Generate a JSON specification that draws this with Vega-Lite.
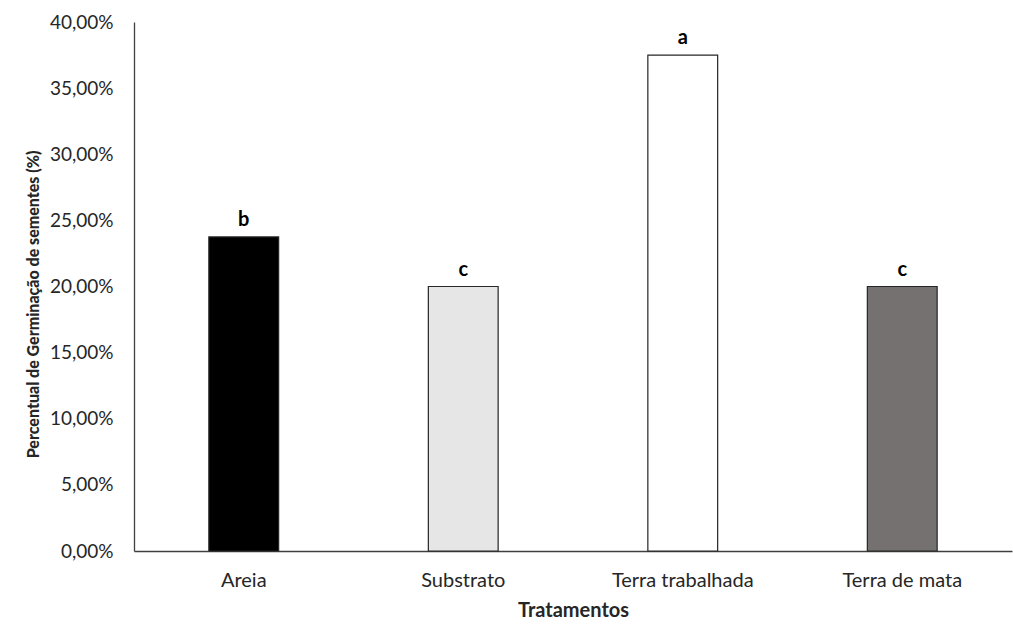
{
  "$schema": "https://vega.github.io/schema/vega-lite/v6.json",
  "autosize": "none",
  "width": 878,
  "height": 529,
  "padding": {"left": 134, "top": 22, "right": 1, "bottom": 83},
  "background": "white",
  "config": {
    "view": {"stroke": null},
    "font": "Lato"
  },
  "data": {
    "values": [
      {"tratamento": "Areia", "valor": 0.2375, "letra": "b", "cor": "#000000"},
      {"tratamento": "Substrato", "valor": 0.2, "letra": "c", "cor": "#e7e6e6"},
      {"tratamento": "Terra trabalhada", "valor": 0.375, "letra": "a", "cor": "#ffffff"},
      {"tratamento": "Terra de mata", "valor": 0.2, "letra": "c", "cor": "#767171"}
    ]
  },
  "encoding": {
    "x": {
      "field": "tratamento",
      "type": "nominal",
      "sort": null,
      "scale": {"paddingInner": 0.682, "paddingOuter": 0.341},
      "axis": {
        "title": "Tratamentos",
        "titleFont": "Lato",
        "titleFontSize": 20,
        "titleFontWeight": "bold",
        "titleColor": "#262626",
        "titleY": 59,
        "titleBaseline": "middle",
        "labelAngle": 0,
        "labelFont": "Lato",
        "labelFontSize": 20,
        "labelColor": "#262626",
        "labelBaseline": "middle",
        "labelPadding": 29,
        "ticks": false,
        "domainColor": "#404040",
        "domainWidth": 1.3
      }
    },
    "y": {
      "field": "valor",
      "type": "quantitative",
      "scale": {"domain": [0, 0.4], "nice": false},
      "axis": {
        "title": "Percentual de Germinação de sementes (%)",
        "titleFont": "Lato",
        "titleFontSize": 16,
        "titleFontWeight": 900,
        "titleColor": "#262626",
        "titleX": -101,
        "titleY": 282,
        "titleBaseline": "middle",
        "values": [0, 0.05, 0.1, 0.15, 0.2, 0.25, 0.3, 0.35, 0.4],
        "labelExpr": "replace(format(datum.value, '.2%'), '.', ',')",
        "labelFont": "Lato",
        "labelFontSize": 19,
        "labelColor": "#262626",
        "labelPadding": 21,
        "ticks": false,
        "grid": false,
        "domainColor": "#404040",
        "domainWidth": 1.3
      }
    }
  },
  "layer": [
    {
      "mark": {"type": "bar", "stroke": "#262626", "strokeWidth": 1.2},
      "encoding": {
        "fill": {"field": "cor", "type": "nominal", "scale": null}
      }
    },
    {
      "mark": {"type": "text", "baseline": "alphabetic", "dy": -11, "font": "Lato", "fontSize": 20, "fontWeight": "bold", "color": "#000000"},
      "encoding": {
        "text": {"field": "letra"}
      }
    }
  ]
}
